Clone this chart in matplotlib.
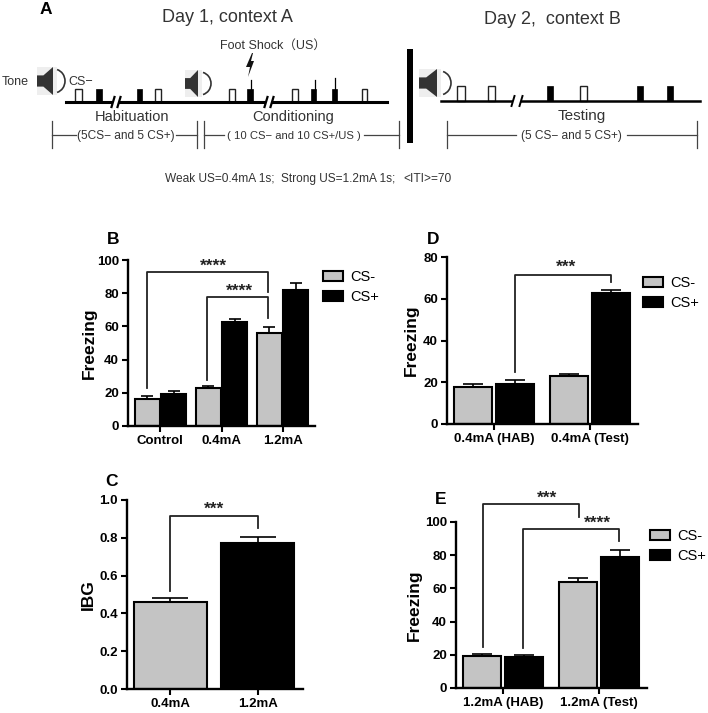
import numpy as np
import matplotlib
matplotlib.use("Agg")
import matplotlib.pyplot as plt
from matplotlib.patches import Arc, Polygon, Rectangle

plt.rcParams['font.family'] = ['Liberation Sans', 'DejaVu Sans']

W, H = 708, 713

GRAY = '#c4c4c4'
DARK = '#222222'

# panel B
b_groups = ['Control', '0.4mA', '1.2mA']
b_minus = [16, 23, 56]
b_minus_err = [2.3, 1, 3.5]
b_plus = [19, 62.5, 82]
b_plus_err = [2, 2, 4]

# panel C
c_groups = ['0.4mA', '1.2mA']
c_values = [0.46, 0.775]
c_err = [0.02, 0.03]

# panel D
d_groups = ['0.4mA (HAB)', '0.4mA (Test)']
d_minus = [17.5, 23]
d_minus_err = [1.8, 1]
d_plus = [19, 62.7]
d_plus_err = [2, 1.6]

# panel E
e_groups = ['1.2mA (HAB)', '1.2mA (Test)']
e_minus = [19.5, 64]
e_minus_err = [1, 2]
e_plus = [18.5, 79]
e_plus_err = [1.5, 4]

# schematic pulses, pixel x range of each pulse
day1_white = [(75, 82), (155, 161), (229, 235), (292, 298), (362, 367)]
day1_black = [(96, 102), (137, 142), (247, 253), (311, 316), (332, 337)]
day1_shock = [(251, 80), (315, 80), (335, 78)]
day2_white = [(457, 465), (488, 495), (580, 587)]
day2_black = [(547, 553), (637, 643), (667, 673)]


def make_axes(fig, left, right, top, bottom):
    ax = fig.add_axes([left / W, 1 - bottom / H, (right - left) / W, (bottom - top) / H])
    ax.patch.set_alpha(0)
    for side in ['top', 'right']:
        ax.spines[side].set_visible(False)
    for side in ['left', 'bottom']:
        ax.spines[side].set_linewidth(1.7)
    ax.tick_params(width=1.5, length=4, pad=2.5, labelsize=9.5)
    return ax


def bold_ticks(ax):
    for lab in ax.get_xticklabels() + ax.get_yticklabels():
        lab.set_fontweight('bold')


def bracket(ax, x0, x1, y_top, y_left, y_right, stars, star_x, star_y):
    ax.plot([x0, x0, x1, x1], [y_left, y_top, y_top, y_right], color=DARK, lw=1.3, clip_on=False)
    ax.text(star_x, star_y, stars, ha='center', va='center', fontsize=12.5, fontweight='bold',
            color=DARK, clip_on=False)


def grouped_panel(ax, groups, minus, minus_err, plus, plus_err, offset, width, capsize):
    x = np.arange(len(groups))
    kw = dict(edgecolor='black', linewidth=1.5)
    err = dict(ecolor='black', elinewidth=1.2, capsize=capsize, capthick=1.2)
    ax.bar(x - offset, minus, width, color=GRAY, label='CS-', **kw)
    ax.bar(x + offset, plus, width, color='black', label='CS+', **kw)
    ax.errorbar(x - offset, minus, yerr=[np.zeros(len(x)), minus_err], fmt='none', **err)
    ax.errorbar(x + offset, plus, yerr=[np.zeros(len(x)), plus_err], fmt='none', **err)
    ax.set_xticks(x)
    ax.set_xticklabels(groups)


def legend_at(fig, ax, px, py):
    ax.legend(loc='upper left', bbox_to_anchor=(px / W, 1 - py / H), bbox_transform=fig.transFigure,
              frameon=False, fontsize=10.5, handlelength=1.4, handleheight=0.7,
              labelspacing=0.4, handletextpad=0.5, borderaxespad=0, borderpad=0)


def speaker(ax, x0, x1, top, bottom, arc_right):
    ax.add_patch(Rectangle((x0, top), x1 - x0 + 4, bottom - top, color='#eeeeee', lw=0))
    mid = (top + bottom) / 2
    h = bottom - top
    ax.add_patch(Polygon([(x0, mid - h * 0.2), (x0 + (x1 - x0) * 0.4, mid - h * 0.2), (x1, top),
                          (x1, bottom), (x0 + (x1 - x0) * 0.4, mid + h * 0.2), (x0, mid + h * 0.2)],
                         color='#333333', lw=0))
    ax.add_patch(Arc((arc_right - 11, mid), 22, h * 0.85, theta1=-75, theta2=75, color='#333333', lw=1.2))


def pulses(ax, base, white, black, top):
    for x0, x1 in white:
        ax.add_patch(Rectangle((x0, top), x1 - x0, base - top, facecolor='white', edgecolor='#222222', lw=1))
    for x0, x1 in black:
        ax.add_patch(Rectangle((x0, top), x1 - x0, base - top, facecolor='black', edgecolor='black', lw=0.5))


def dim_line(ax, x0, x1, y, t0, t1, text, fontsize):
    ax.plot([x0, x0], [y - 14, y + 13], color='#444444', lw=0.9)
    ax.plot([x1, x1], [y - 14, y + 13], color='#444444', lw=0.9)
    ax.plot([x0, t0], [y, y], color='#444444', lw=0.9)
    ax.plot([t1, x1], [y, y], color='#444444', lw=0.9)
    ax.text((t0 + t1) / 2, y + 1, text, ha='center', va='center', fontsize=fontsize, color='#333333')


def draw_schematic(fig):
    ax = fig.add_axes([0, 0, 1, 1])
    ax.set_xlim(0, W)
    ax.set_ylim(H, 0)
    ax.axis('off')
    txt = '#333333'

    ax.text(46, 10, 'A', fontsize=12.5, fontweight='bold', ha='center', va='center')
    ax.text(227, 17, 'Day 1, context A', fontsize=13, ha='center', va='center', color=txt)
    ax.text(552, 19, 'Day 2,  context B', fontsize=13, ha='center', va='center', color=txt)
    ax.text(273, 46, 'Foot Shock\uff08US\uff09', fontsize=9, ha='center', va='center', color=txt,
            family=['Liberation Sans', 'Noto Sans CJK SC'])
    ax.text(2, 82, 'Tone', fontsize=9, ha='left', va='center', color=txt)
    ax.text(68, 82, 'CS\u2212', fontsize=9, ha='left', va='center', color=txt)

    ax.plot([66, 387], [102, 102], color='black', lw=2.2, zorder=2)
    ax.plot([441, 700], [101, 101], color='black', lw=1.8, zorder=2)
    pulses(ax, 102, day1_white, day1_black, 89)
    pulses(ax, 101, day2_white, day2_black, 86)
    for x, y in day1_shock:
        ax.plot([x, x], [y, 90], color='black', lw=0.9)
    for x in [113, 266]:
        ax.add_patch(Rectangle((x, 98), 6, 8, color='white', lw=0, zorder=3))
        for dx in [0, 6]:
            ax.plot([x + dx - 1.5, x + dx + 1.5], [107, 97], color='black', lw=1.6, zorder=4)
    ax.add_patch(Rectangle((513, 97), 8, 8, color='white', lw=0, zorder=3))
    for dx in [0, 8]:
        ax.plot([513 + dx - 1.5, 513 + dx + 1.5], [106, 96], color='black', lw=1.4, zorder=4)

    speaker(ax, 37, 53, 67, 95, 65)
    speaker(ax, 185, 198, 70, 97, 211)
    speaker(ax, 419, 437, 69, 97, 451)
    ax.add_patch(Polygon([(252, 53), (246, 67), (250, 67), (248, 77), (254, 61), (251, 61), (253, 53)],
                         color='#111111', lw=0))

    ax.text(132, 117, 'Habituation', fontsize=10.5, ha='center', va='center', color=txt)
    ax.text(293, 117, 'Conditioning', fontsize=10.5, ha='center', va='center', color=txt)
    ax.text(582, 116, 'Testing', fontsize=11, ha='center', va='center', color=txt)

    dim_line(ax, 52, 197, 135, 76, 176, '(5CS\u2212 and 5 CS+)', 8.6)
    dim_line(ax, 204, 399, 135, 224, 364, '( 10 CS\u2212 and 10 CS+/US )', 8.1)
    dim_line(ax, 447, 697, 135, 516, 627, '(5 CS\u2212 and 5 CS+)', 8.6)

    ax.add_patch(Rectangle((407, 49), 6, 94, color='black', lw=0))
    ax.text(165, 179, 'Weak US=0.4mA 1s;  Strong US=1.2mA 1s;', fontsize=8.6, ha='left', va='center', color=txt)
    ax.text(403, 179, '<ITI>=70', fontsize=8.6, ha='left', va='center', color=txt)

    # panel letters
    for letter, x, y in [('B', 113, 239), ('C', 112, 482), ('D', 433, 239), ('E', 441, 500)]:
        ax.text(x, y, letter, fontsize=12.5, fontweight='bold', ha='center', va='center')


fig = plt.figure(figsize=(W / 100, H / 100), dpi=100)
fig.patch.set_facecolor('white')
draw_schematic(fig)

# B
ax = make_axes(fig, 128, 315, 260, 426)
grouped_panel(ax, b_groups, b_minus, b_minus_err, b_plus, b_plus_err, 0.215, 0.405, 4.5)
ax.set_xlim(-0.53, 2.53)
ax.set_ylim(0, 100)
ax.set_yticks([0, 20, 40, 60, 80, 100])
ax.set_ylabel('Freezing', fontsize=12.5, fontweight='bold', labelpad=0)
bold_ticks(ax)
bracket(ax, -0.215, 1.76, 93, 23, 81, '****', 0.87, 96.5)
bracket(ax, 0.76, 1.76, 77.7, 27.7, 65, '****', 1.29, 81)
legend_at(fig, ax, 323, 270)

# C
ax = make_axes(fig, 127, 303, 500, 689)
x = np.arange(len(c_groups))
ax.bar(x, c_values, 0.835, color=[GRAY, 'black'], edgecolor='black', linewidth=1.5)
ax.errorbar(x, c_values, yerr=[np.zeros(len(x)), c_err], fmt='none', ecolor='black',
            elinewidth=1.2, capsize=13, capthick=1.2)
ax.set_xticks(x)
ax.set_xticklabels(c_groups)
ax.set_xlim(-0.495, 1.515)
ax.set_ylim(0, 1.0)
ax.set_yticks([0, 0.2, 0.4, 0.6, 0.8, 1.0])
ax.set_yticklabels(['0.0', '0.2', '0.4', '0.6', '0.8', '1.0'])
ax.set_ylabel('IBG', fontsize=12.5, fontweight='bold', labelpad=2.5)
bold_ticks(ax)
bracket(ax, 0, 1, 0.915, 0.518, 0.852, '***', 0.5, 0.95)

# D
ax = make_axes(fig, 447, 638, 257, 424)
grouped_panel(ax, d_groups, d_minus, d_minus_err, d_plus, d_plus_err, 0.219, 0.4, 7)
ax.set_xlim(-0.49, 1.5)
ax.set_ylim(0, 80)
ax.set_yticks([0, 20, 40, 60, 80])
ax.set_ylabel('Freezing', fontsize=12.5, fontweight='bold', labelpad=3.3)
bold_ticks(ax)
bracket(ax, 0.219, 1.219, 71.4, 25, 68, '***', 0.75, 75)
legend_at(fig, ax, 643, 276)

# E
ax = make_axes(fig, 456, 647, 522, 688)
grouped_panel(ax, e_groups, e_minus, e_minus_err, e_plus, e_plus_err, 0.219, 0.4, 7)
ax.set_xlim(-0.49, 1.5)
ax.set_ylim(0, 100)
ax.set_yticks([0, 20, 40, 60, 80, 100])
ax.set_ylabel('Freezing', fontsize=12.5, fontweight='bold', labelpad=2)
bold_ticks(ax)
bracket(ax, -0.21, 0.79, 111, 24.7, 103, '***', 0.46, 114)
bracket(ax, 0.21, 1.21, 95.8, 24, 88.5, '****', 0.98, 99)
legend_at(fig, ax, 650, 529)

fig.savefig('out.png', dpi=100)
